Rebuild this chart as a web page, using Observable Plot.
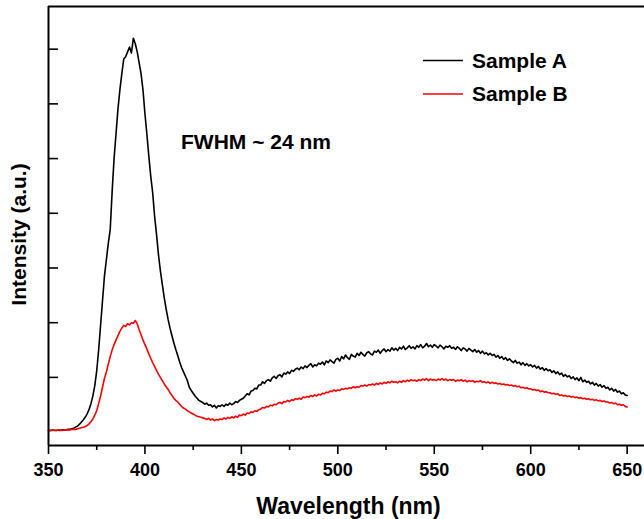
<!DOCTYPE html>
<html>
<head>
<meta charset="utf-8">
<script src="https://cdn.jsdelivr.net/npm/d3@7"></script>
<script src="https://cdn.jsdelivr.net/npm/@observablehq/plot@0.6"></script>
<style>
  html, body { margin: 0; padding: 0; background: #fff; overflow: hidden; }
</style>
</head>
<body>
<div id="chart"></div>
<script>
// Wavelength grid (nm), 1 nm sampling
const wavelengths = d3.range(350, 651, 1);

// Sample A intensity (a.u.)
const sampleA = [
  0.03,0.03,0.04,0.03,0.03,0.04,0.03,0.04,0.04,0.04,
  0.05,0.05,0.06,0.07,0.09,0.11,0.14,0.18,0.22,0.27,
  0.33,0.41,0.52,0.66,0.85,1.12,1.50,1.95,2.40,2.85,
  3.15,3.45,3.70,4.40,5.00,5.45,5.90,6.25,6.55,6.82,
  6.86,6.95,7.04,6.93,7.20,7.10,6.95,6.75,6.55,6.25,
  5.82,5.45,5.05,4.68,4.38,3.95,3.62,3.25,2.95,2.70,
  2.46,2.25,2.06,1.90,1.76,1.63,1.51,1.40,1.28,1.18,
  1.10,1.02,0.94,0.82,0.76,0.71,0.66,0.62,0.58,0.56,
  0.54,0.51,0.53,0.49,0.50,0.46,0.49,0.44,0.48,0.47,
  0.50,0.47,0.51,0.49,0.53,0.50,0.52,0.56,0.54,0.58,
  0.60,0.62,0.66,0.70,0.68,0.75,0.76,0.80,0.79,0.86,
  0.86,0.92,0.89,0.94,0.96,0.93,0.99,1.02,0.98,1.03,
  1.05,1.01,1.08,1.06,1.10,1.07,1.13,1.11,1.15,1.17,
  1.14,1.19,1.16,1.21,1.18,1.22,1.25,1.19,1.23,1.21,
  1.26,1.24,1.28,1.23,1.30,1.27,1.32,1.29,1.26,1.33,
  1.35,1.30,1.38,1.34,1.41,1.36,1.33,1.42,1.39,1.37,
  1.44,1.40,1.46,1.42,1.39,1.45,1.47,1.43,1.41,1.48,
  1.46,1.50,1.44,1.49,1.52,1.47,1.51,1.48,1.54,1.50,
  1.53,1.49,1.55,1.52,1.57,1.51,1.54,1.58,1.53,1.56,
  1.52,1.58,1.55,1.60,1.54,1.57,1.62,1.56,1.59,1.55,
  1.60,1.57,1.54,1.59,1.56,1.52,1.57,1.55,1.58,1.53,
  1.55,1.51,1.56,1.53,1.49,1.54,1.52,1.48,1.53,1.50,
  1.47,1.51,1.46,1.49,1.44,1.48,1.43,1.45,1.41,1.44,
  1.40,1.42,1.37,1.40,1.35,1.38,1.33,1.36,1.31,1.34,
  1.30,1.27,1.31,1.26,1.28,1.23,1.27,1.22,1.25,1.21,
  1.23,1.19,1.22,1.17,1.20,1.15,1.18,1.13,1.16,1.12,
  1.14,1.09,1.12,1.07,1.10,1.05,1.08,1.02,1.05,1.01,
  1.03,0.98,1.01,0.96,0.99,0.94,1.00,0.92,0.95,0.91,
  0.93,0.88,0.91,0.86,0.89,0.84,0.87,0.82,0.85,0.80,
  0.82,0.77,0.80,0.75,0.78,0.73,0.75,0.70,0.72,0.68,
  0.67
];

// Sample B intensity (a.u.)
const sampleB = [
  0.03,0.03,0.03,0.04,0.03,0.04,0.04,0.03,0.04,0.04,
  0.04,0.04,0.05,0.05,0.05,0.06,0.07,0.08,0.09,0.10,
  0.12,0.15,0.19,0.24,0.31,0.39,0.52,0.66,0.82,0.98,
  1.10,1.24,1.38,1.50,1.60,1.68,1.76,1.84,1.90,1.95,
  1.93,1.98,1.96,2.00,1.99,2.04,1.98,1.87,1.78,1.68,
  1.60,1.52,1.43,1.35,1.27,1.20,1.13,1.06,1.00,0.94,
  0.88,0.83,0.78,0.72,0.67,0.62,0.58,0.55,0.51,0.47,
  0.44,0.42,0.39,0.37,0.35,0.33,0.31,0.29,0.28,0.27,
  0.26,0.25,0.23,0.25,0.22,0.24,0.21,0.23,0.22,0.24,
  0.23,0.26,0.24,0.27,0.25,0.28,0.26,0.29,0.27,0.31,
  0.30,0.33,0.31,0.35,0.34,0.37,0.36,0.39,0.38,0.41,
  0.42,0.45,0.44,0.47,0.46,0.49,0.48,0.51,0.50,0.53,
  0.54,0.52,0.56,0.55,0.58,0.56,0.59,0.58,0.61,0.60,
  0.62,0.60,0.64,0.63,0.65,0.64,0.67,0.65,0.68,0.66,
  0.69,0.68,0.71,0.70,0.73,0.72,0.75,0.74,0.77,0.75,
  0.77,0.76,0.79,0.78,0.80,0.79,0.81,0.80,0.83,0.81,
  0.83,0.82,0.85,0.84,0.86,0.84,0.87,0.86,0.88,0.86,
  0.89,0.87,0.90,0.88,0.91,0.89,0.92,0.90,0.93,0.91,
  0.92,0.90,0.93,0.91,0.94,0.92,0.95,0.93,0.96,0.94,
  0.95,0.93,0.96,0.94,0.97,0.95,0.98,0.94,0.97,0.95,
  0.96,0.94,0.97,0.95,0.98,0.95,0.97,0.94,0.96,0.95,
  0.96,0.93,0.95,0.94,0.96,0.93,0.95,0.92,0.94,0.93,
  0.94,0.91,0.93,0.92,0.94,0.91,0.92,0.90,0.92,0.89,
  0.91,0.89,0.90,0.88,0.89,0.87,0.88,0.86,0.87,0.85,
  0.86,0.84,0.85,0.83,0.84,0.81,0.82,0.80,0.81,0.79,
  0.79,0.77,0.78,0.76,0.77,0.74,0.75,0.73,0.74,0.72,
  0.72,0.70,0.71,0.69,0.70,0.67,0.68,0.66,0.67,0.65,
  0.66,0.64,0.65,0.63,0.64,0.62,0.63,0.61,0.62,0.60,
  0.61,0.59,0.60,0.58,0.59,0.57,0.58,0.56,0.57,0.55,
  0.55,0.53,0.54,0.52,0.53,0.50,0.51,0.49,0.50,0.47,
  0.46
];

const seriesNames = ["Sample A", "Sample B"];
const seriesColors = ["#000000", "#ff0000"];
const xTicksMajor = [350, 400, 450, 500, 550, 600, 650];
const xTicksMinor = [375, 425, 475, 525, 575, 625];
const yTicks = [1, 2, 3, 4, 5, 6, 7];
const xDomain = [350, 659];
const yDomain = [-0.245, 7.78];
const annotation = "FWHM ~ 24 nm";
const xLabel = "Wavelength (nm)";
const yLabel = "Intensity (a.u.)";

const rows = [];
wavelengths.forEach((w, i) => {
  rows.push({wl: w, value: sampleA[i], series: seriesNames[0]});
  rows.push({wl: w, value: sampleB[i], series: seriesNames[1]});
});

const font = "'Liberation Sans', Arial, Helvetica, sans-serif";

function legendMark(index, scales, values, dims) {
  const g = d3.create("svg:g");
  seriesNames.forEach((name, i) => {
    const y = 60.5 + i * 33.5;
    g.append("line").attr("x1", 423).attr("x2", 463).attr("y1", y).attr("y2", y)
      .attr("stroke", seriesColors[i]).attr("stroke-width", 1.7);
    g.append("text").attr("x", 472).attr("y", y).attr("dy", "0.35em")
      .attr("text-anchor", "start")
      .attr("font-size", 21).attr("font-weight", "bold").attr("fill", "#000")
      .attr("font-family", font).text(name);
  });
  return g.node();
}

const chart = Plot.plot({
  width: 644,
  height: 519,
  marginLeft: 48,
  marginRight: 0,
  marginTop: 6,
  marginBottom: 74,
  style: {fontFamily: font, fontWeight: "bold", background: "#fff", color: "#000"},
  x: {domain: xDomain},
  y: {domain: yDomain},
  color: {domain: seriesNames, range: seriesColors},
  marks: [
    Plot.line(rows, {x: "wl", y: "value", z: "series", stroke: "series", strokeWidth: 1.6}),
    Plot.axisX({ticks: xTicksMajor, tickSize: 9, tickPadding: 9, fontSize: 18, label: null, tickFormat: d => String(d), strokeWidth: 1.6}),
    Plot.axisX({ticks: xTicksMinor, tickSize: 5, tickFormat: () => "", label: null, strokeWidth: 1.6}),
    Plot.axisY({ticks: [], label: null}),
    Plot.tickY(yTicks, {y: d => d, insetRight: 586, strokeWidth: 1.6}),
    Plot.ruleX([xDomain[0]], {strokeWidth: 2}),
    Plot.ruleY([yDomain[0], yDomain[1]], {strokeWidth: 2}),
    Plot.text([annotation], {frameAnchor: "top-left", dx: 132.5, dy: 135.7, textAnchor: "start", lineAnchor: "middle", fontSize: 21, fontWeight: "bold"}),
    Plot.text([xLabel], {frameAnchor: "bottom", dx: 2, dy: 61.5, textAnchor: "middle", lineAnchor: "middle", fontSize: 23, fontWeight: "bold"}),
    Plot.text([yLabel], {frameAnchor: "left", dx: -29, dy: 8.5, rotate: -90, textAnchor: "middle", lineAnchor: "middle", fontSize: 21, fontWeight: "bold"}),
    legendMark
  ]
});
document.getElementById("chart").appendChild(chart);
</script>
</body>
</html>
